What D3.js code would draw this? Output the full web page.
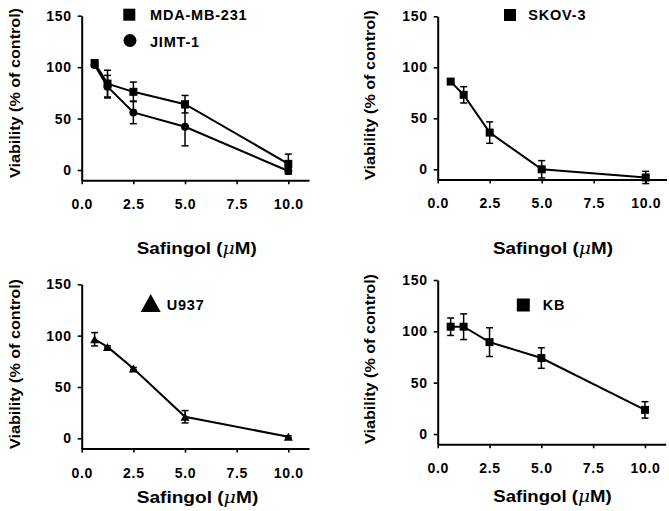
<!DOCTYPE html>
<html><head><meta charset="utf-8">
<script src="https://cdn.jsdelivr.net/npm/d3@7"></script>
<style>
html,body{margin:0;padding:0;background:#fff;}
svg{display:block;}
text{font-family:"Liberation Sans",Arial,sans-serif;font-weight:bold;fill:#000;}
</style></head>
<body>
<svg id="chart" width="669" height="511"></svg>
<script>
// ---- data ----
const doses = [0.625, 1.25, 2.5, 5, 10];
const mdaMean  = [104, 84, 76, 64, 6];
const mdaErr   = [2, 13, 9.5, 8.5, 9.5];
const jimtMean = [102, 81, 56, 42, -1];
const jimtErr  = [2, 11, 11, 18.5, 3];
const skovMean = [86, 73, 36, 0, -8];
const skovErr  = [2, 8, 10.5, 8.5, 6];
const u937Mean = [96.5, 89, 68, 21, 1.5];
const u937Err  = [6.5, 1, 1, 6, 1];
const kbMean   = [104.5, 104.5, 89.5, 74, 23.5];
const kbErr    = [8.5, 12.5, 14, 10, 8];
const xTicks = [0, 2.5, 5, 7.5, 10];
const yTicks = [0, 50, 100, 150];
const xDomain = [0, 11];
const yDomain = [-10, 150];
const yTitle = "Viability (% of control)";

const svg = d3.select("#chart");

const panels = [
  {xr:[81.7, 309], yr:[180.3, 15.7], yTitleX:15, yTitleY:93, xTitle:["Safingol (", ")"], xTitleX:196.7, xTitleY:253.5, xTitleLen:120,
   series:[{name:"MDA-MB-231", mean:mdaMean, err:mdaErr, sym:"square"},
           {name:"JIMT-1", mean:jimtMean, err:jimtErr, sym:"circle"}],
   legend:[{sym:"square", x:129.3, y:14.7, tx:150, ty:19.5, size:12},
           {sym:"circle", x:130, y:40.5, tx:150, ty:47, size:13}]},
  {xr:[437.7, 666.5], yr:[179.5, 16.3], yTitleX:370, yTitleY:95, xTitle:["Safingol (", ")"], xTitleX:553, xTitleY:253.5, xTitleLen:120,
   series:[{name:"SKOV-3", mean:skovMean, err:skovErr, sym:"square"}],
   legend:[{sym:"square", x:510, y:15, tx:528.3, ty:20, size:12}]},
  {xr:[81.7, 309], yr:[448.6, 284.3], yTitleX:15, yTitleY:364, xTitle:["Safingol  (", ")"], xTitleX:197.5, xTitleY:503, xTitleLen:121.6,
   series:[{name:"U937", mean:u937Mean, err:u937Err, sym:"triangle"}],
   legend:[{sym:"triangle", x:150.7, y:303, tx:166.7, ty:309.5, size:20}]},
  {xr:[437.7, 665.7], yr:[444.3, 280], yTitleX:370, yTitleY:359, xTitle:["Safingol (", ")"], xTitleX:552.5, xTitleY:502, xTitleLen:118.4,
   series:[{name:"KB", mean:kbMean, err:kbErr, sym:"square"}],
   legend:[{sym:"square", x:523.3, y:305, tx:542.7, ty:310, size:13}]}
];

function drawSym(g, sym, cx, cy, s){
  if(sym==="square"){
    g.append("rect").attr("x",cx-s/2).attr("y",cy-s/2).attr("width",s).attr("height",s).attr("fill","#000");
  } else if(sym==="circle"){
    g.append("circle").attr("cx",cx).attr("cy",cy).attr("r",s/2).attr("fill","#000");
  } else {
    const h = s*0.9;
    g.append("path").attr("d",`M${cx-s/2},${cy+h/2}L${cx+s/2},${cy+h/2}L${cx},${cy-h/2}Z`).attr("fill","#000");
  }
}

panels.forEach(p=>{
  const x = d3.scaleLinear().domain(xDomain).range(p.xr);
  const y = d3.scaleLinear().domain(yDomain).range(p.yr);
  const g = svg.append("g");

  // y axis
  const ya = g.append("g").attr("transform",`translate(${p.xr[0]},0)`)
    .call(d3.axisLeft(y).tickValues(yTicks).tickFormat(d3.format("d")).tickSize(4).tickSizeOuter(0).tickPadding(6));
  // x axis
  const xa = g.append("g").attr("transform",`translate(0,${p.yr[0]})`)
    .call(d3.axisBottom(x).tickValues(xTicks).tickFormat(d3.format(".1f")).tickSize(4).tickSizeOuter(0).tickPadding(15));
  [ya,xa].forEach(a=>{
    a.select(".domain").attr("stroke","#000").attr("stroke-width",2);
    a.selectAll(".tick line").attr("stroke","#000").attr("stroke-width",1.6);
    a.selectAll(".tick text").attr("font-size",14).attr("font-weight","bold")
      .attr("font-family","'Liberation Sans',Arial,sans-serif").attr("letter-spacing","0.7px").attr("fill","#000");
  });

  // y title
  g.append("text").attr("transform",`translate(${p.yTitleX},${p.yTitleY}) rotate(-90)`)
    .attr("text-anchor","middle").attr("dy","0.35em").attr("font-size",15)
    .attr("textLength",170).attr("lengthAdjust","spacingAndGlyphs").text(yTitle);

  // x title
  const xt = g.append("text").attr("x",p.xTitleX).attr("y",p.xTitleY).attr("text-anchor","middle")
    .attr("font-size",16.5).attr("textLength",p.xTitleLen).attr("lengthAdjust","spacingAndGlyphs");
  xt.append("tspan").text(p.xTitle[0]);
  xt.append("tspan").attr("font-style","italic").attr("font-family","'DejaVu Serif',serif").attr("font-weight","normal").text("\u03BC");
  xt.append("tspan").text("M" + p.xTitle[1]);

  // series
  p.series.forEach(s=>{
    const pts = doses.map((d,i)=>({x:d, m:s.mean[i], e:s.err[i]}));
    g.append("path").datum(pts).attr("fill","none").attr("stroke","#000").attr("stroke-width",2)
      .attr("d", d3.line().x(d=>x(d.x)).y(d=>y(d.m)));
    const eb = g.append("g").attr("stroke","#000").attr("stroke-width",1.5);
    pts.forEach(d=>{
      const cx = x(d.x), y1 = y(d.m+d.e), y2 = y(d.m-d.e);
      eb.append("line").attr("x1",cx).attr("x2",cx).attr("y1",y1).attr("y2",y2);
      eb.append("line").attr("x1",cx-3.5).attr("x2",cx+3.5).attr("y1",y1).attr("y2",y1);
      eb.append("line").attr("x1",cx-3.5).attr("x2",cx+3.5).attr("y1",y2).attr("y2",y2);
    });
    const mk = g.append("g");
    pts.forEach(d=> drawSym(mk, s.sym, x(d.x), y(d.m), s.sym==="triangle"?9:8));
  });

  // legend
  p.legend.forEach((l,i)=>{
    drawSym(g, l.sym, l.x, l.y, l.size);
    g.append("text").attr("x",l.tx).attr("y",l.ty).attr("font-size",14.5).attr("letter-spacing","0.8px")
      .text(p.series[i].name);
  });
});
</script>
</body></html>
